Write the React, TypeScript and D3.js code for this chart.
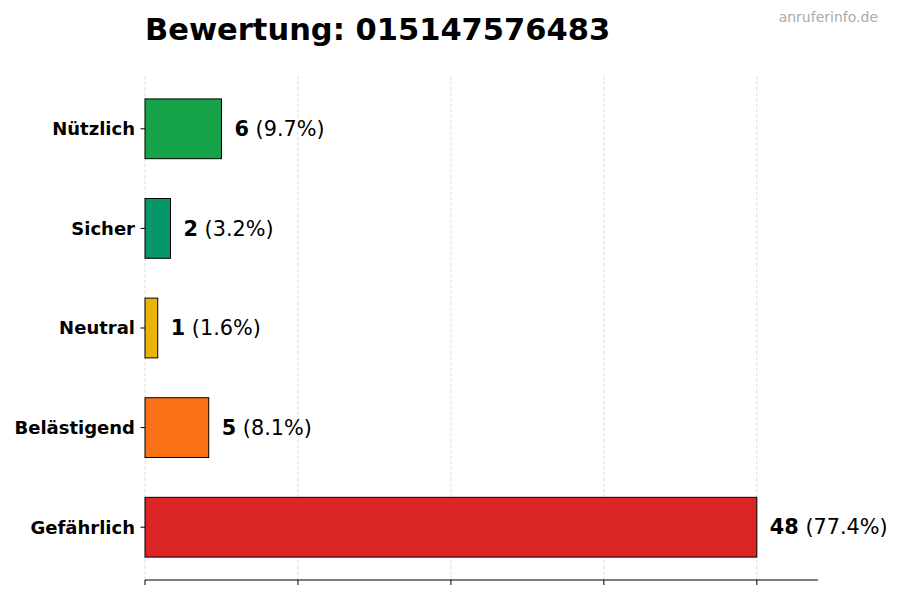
import React from 'react';
import * as d3 from 'd3';

const categories = ['Nützlich', 'Sicher', 'Neutral', 'Belästigend', 'Gefährlich'];
const counts = [6, 2, 1, 5, 48];
const percents = ['9.7%', '3.2%', '1.6%', '8.1%', '77.4%'];
const barColors = ['#16a34a', '#059669', '#eab308', '#f97316', '#dc2626'];
const xTicks = [0, 12, 24, 36, 48];

const WIDTH = 900;
const HEIGHT = 600;
const margin = { top: 76, right: 82, bottom: 20, left: 145 };
const FONT = 'DejaVu Sans, sans-serif';

const App: React.FC = () => {
  const plotBottom = HEIGHT - margin.bottom;
  const plotRight = WIDTH - margin.right;

  const xScale = d3.scaleLinear().domain([0, 52.8]).range([margin.left, plotRight]);
  // index 0 on top, last category at bottom
  const n = categories.length;
  const yScale = d3
    .scaleLinear()
    .domain([-0.53, n - 1 + 0.53])
    .range([plotBottom, margin.top]);
  const rowY = (i: number) => yScale(n - 1 - i);
  const barH = yScale(0) - yScale(0.6);

  return (
    <svg
      width={WIDTH}
      height={HEIGHT}
      style={{ position: 'absolute', left: 0, top: 0, background: '#fff' }}
      fontFamily={FONT}
    >
      {/* Title */}
      <text x={margin.left} y={40} fontSize={30.5} fontWeight="bold" fill="#000">
        Bewertung: 015147576483
      </text>
      <text x={878} y={22} fontSize={14} fill="#aaaaaa" textAnchor="end">
        anruferinfo.de
      </text>

      {/* Grid */}
      {xTicks.map(t => (
        <line
          key={`g${t}`}
          x1={xScale(t)}
          x2={xScale(t)}
          y1={margin.top}
          y2={plotBottom}
          stroke="#d6d6d6"
          strokeWidth={0.8}
          strokeDasharray="3.5,2"
        />
      ))}

      {/* Bars */}
      {categories.map((c, i) => {
        const cy = rowY(i);
        const x0 = xScale(0);
        const x1 = xScale(counts[i]);
        return (
          <g key={c}>
            <rect
              x={x0}
              y={cy - barH / 2}
              width={x1 - x0}
              height={barH}
              fill={barColors[i]}
              stroke="#000"
              strokeWidth={1}
            />
            <line x1={x0 - 4.5} x2={x0} y1={cy} y2={cy} stroke="#000" strokeWidth={1} />
            <text
              x={x0 - 10}
              y={cy}
              dy="0.35em"
              textAnchor="end"
              fontSize={18}
              fontWeight="bold"
              fill="#000"
            >
              {c}
            </text>
            <text x={x1 + 13} y={cy} dy="0.35em" fontSize={20.8} fill="#000">
              <tspan fontWeight="bold">{counts[i]}</tspan>
              <tspan> ({percents[i]})</tspan>
            </text>
          </g>
        );
      })}

      {/* X axis */}
      <line x1={margin.left} x2={plotRight} y1={plotBottom} y2={plotBottom} stroke="#000" strokeWidth={1} />
      {xTicks.map(t => (
        <line
          key={`t${t}`}
          x1={xScale(t)}
          x2={xScale(t)}
          y1={plotBottom}
          y2={plotBottom + 5}
          stroke="#000"
          strokeWidth={1}
        />
      ))}
    </svg>
  );
};

export default App;
